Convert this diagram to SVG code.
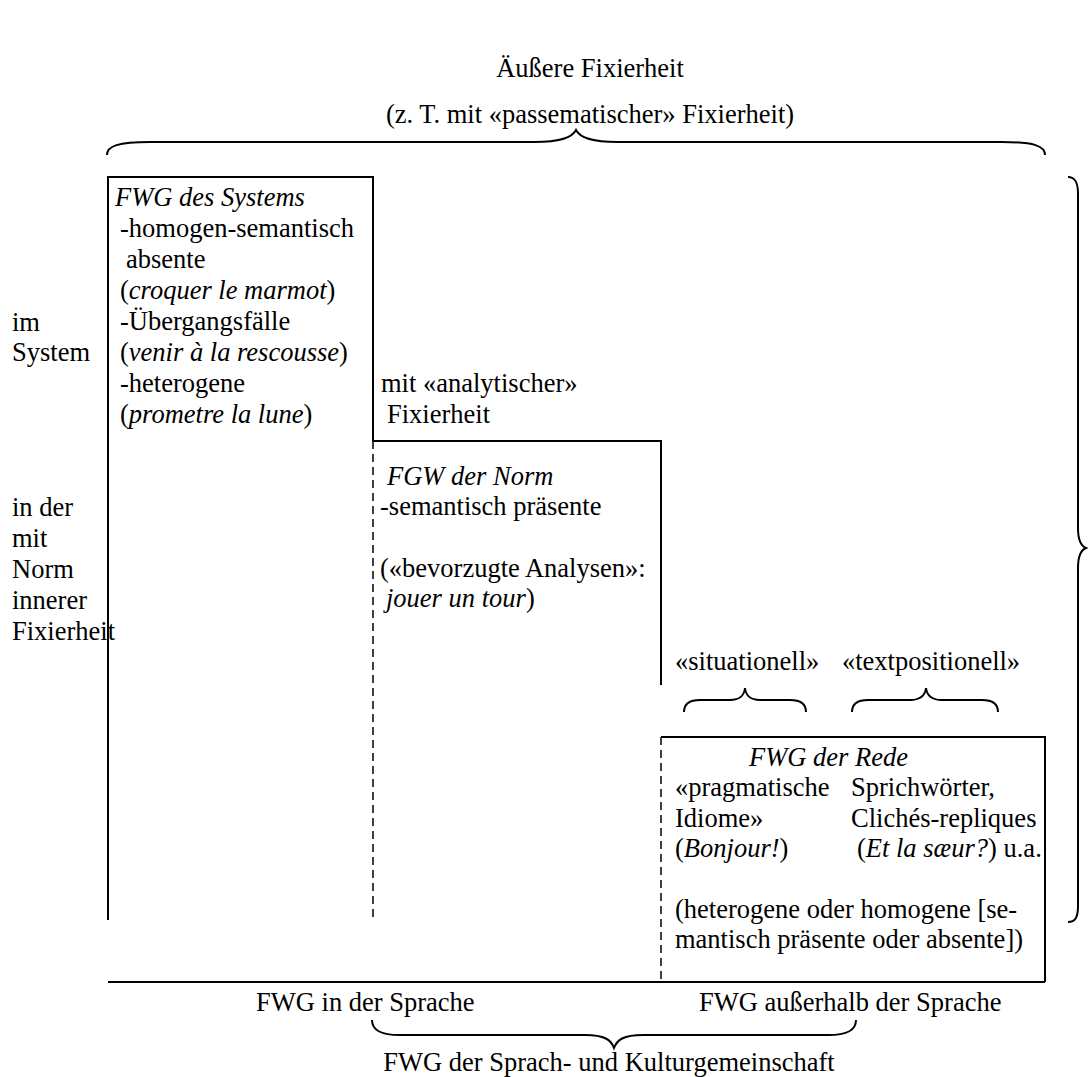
<svg xmlns="http://www.w3.org/2000/svg" width="1088" height="1077" viewBox="0 0 1088 1077">
  <style>
    text { font-family: "Liberation Serif", "Times New Roman", serif; font-size: 26.5px; fill: #000; }
    .it { font-style: italic; }
    .mid { text-anchor: middle; }
    .solid { stroke: #000; stroke-width: 2; fill: none; }
    .dash { stroke: #000; stroke-width: 1.5; fill: none; stroke-dasharray: 8 5; }
    .brace { stroke: #000; stroke-width: 2; fill: none; }
  </style>
  <rect width="1088" height="1077" fill="#fff"/>

  <!-- heading -->
  <g id="heading">
    <text class="mid" x="590" y="77">Äußere Fixierheit</text>
    <text class="mid" x="590" y="123">(z. T. mit «passematischer» Fixierheit)</text>
  </g>

  <!-- side labels on the left -->
  <g id="labels-left">
    <text x="12" y="331">im</text>
    <text x="12" y="361">System</text>
    <text x="12" y="516">in der</text>
    <text x="12" y="547">mit</text>
    <text x="12" y="578">Norm</text>
    <text x="12" y="609">innerer</text>
    <text x="12" y="640">Fixierheit</text>
  </g>

  <!-- frame lines and braces -->
  <g id="connectors">
    <!-- system block -->
    <path class="solid" d="M108,920 V177 H373 V441"/>
    <path class="dash" d="M373,441 V920"/>
    <!-- norm step -->
    <path class="solid" d="M373,441 H661 V685"/>
    <!-- speech block -->
    <path class="dash" d="M661,737 V982"/>
    <path class="solid" d="M661,737 H1045 V982"/>
    <!-- base line -->
    <path class="solid" d="M108,982 H1045"/>

    <!-- top brace -->
    <path class="brace" d="M107,155 C107,146 118,142 150,142 L535,142 C560,142 572,138 576,130 C580,138 592,142 617,142 L1002,142 C1034,142 1045,146 1045,155"/>
    <!-- right brace -->
    <path class="brace" d="M1068,177 C1075,177 1078,182 1078,194 L1078,528 C1078,540 1081,546 1086,548 C1081,550 1078,556 1078,568 L1078,906 C1078,918 1075,922 1068,922"/>
    <!-- small braces above the speech block -->
    <path class="brace" d="M684,712 C684,703 690,700 700,700 L730,700 C740,700 744,696 745,688 C746,696 750,700 760,700 L790,700 C800,700 806,703 806,712"/>
    <path class="brace" d="M852,712 C852,703 858,700 868,700 L910,700 C920,700 925,696 926,688 C927,696 932,700 942,700 L982,700 C992,700 998,703 998,712"/>
    <!-- bottom brace -->
    <path class="brace" d="M372,1020 C372,1030 380,1035 400,1035 L585,1035 C605,1035 611,1040 614,1048 C617,1040 623,1035 643,1035 L828,1035 C848,1035 856,1030 856,1020"/>
  </g>

  <!-- FWG des Systems -->
  <g id="node-system">
    <text class="it" x="115" y="206">FWG des Systems</text>
    <text x="120" y="237">-homogen-semantisch</text>
    <text x="126" y="268">absente</text>
    <text x="120" y="299">(<tspan class="it">croquer le marmot</tspan>)</text>
    <text x="120" y="330">-Übergangsfälle</text>
    <text x="120" y="361">(<tspan class="it">venir à la rescousse</tspan>)</text>
    <text x="120" y="392">-heterogene</text>
    <text x="120" y="423">(<tspan class="it">prometre la lune</tspan>)</text>
  </g>

  <!-- analytic fixedness label -->
  <g id="label-analytic">
    <text x="381" y="392">mit «analytischer»</text>
    <text x="387" y="423">Fixierheit</text>
  </g>

  <!-- FGW der Norm -->
  <g id="node-norm">
    <text class="it" x="387" y="485">FGW der Norm</text>
    <text x="380" y="515">-semantisch präsente</text>
    <text x="380" y="577">(«bevorzugte Analysen»:</text>
    <text x="386" y="607"><tspan class="it">jouer un tour</tspan>)</text>
  </g>

  <!-- situational / text-positional labels -->
  <g id="label-situational">
    <text x="675" y="670">«situationell»</text>
  </g>
  <g id="label-textpositional">
    <text x="842" y="670">«textpositionell»</text>
  </g>

  <!-- FWG der Rede -->
  <g id="node-rede">
    <text class="it" x="749" y="766">FWG der Rede</text>
    <text x="675" y="796">«pragmatische</text>
    <text x="851" y="796">Sprichwörter,</text>
    <text x="675" y="827">Idiome»</text>
    <text x="851" y="827">Clichés-repliques</text>
    <text x="675" y="857">(<tspan class="it">Bonjour!</tspan>)</text>
    <text x="857" y="857">(<tspan class="it">Et la sæur?</tspan>) u.a.</text>
    <text x="675" y="918">(heterogene oder homogene [se-</text>
    <text x="675" y="948">mantisch präsente oder absente])</text>
  </g>

  <!-- bottom labels -->
  <g id="labels-bottom">
    <text x="256" y="1011">FWG in der Sprache</text>
    <text x="699" y="1011">FWG außerhalb der Sprache</text>
    <text class="mid" x="609" y="1071">FWG der Sprach- und Kulturgemeinschaft</text>
  </g>
</svg>
